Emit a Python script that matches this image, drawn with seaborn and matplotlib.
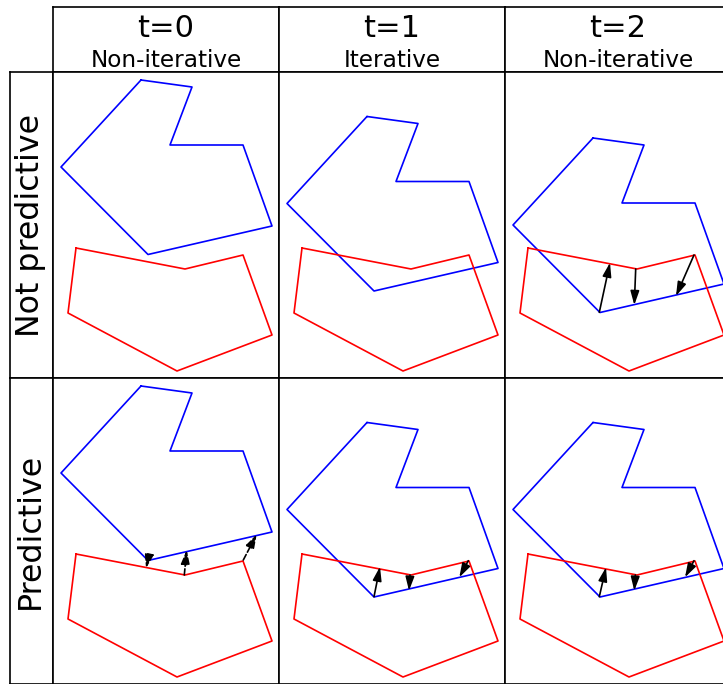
import matplotlib
matplotlib.use("Agg")
import matplotlib.pyplot as plt
import seaborn as sns

# ---- data (cell coordinates, y grows downward) ----
blue_x = [88, 139, 117, 190, 219, 95, 8]
blue_y = [8, 15, 73, 73, 154, 182.5, 95]
red_x = [23, 132, 190, 219, 124, 15]
red_y = [176, 197, 183, 263, 299, 241]

col_titles = ["t=0", "t=1", "t=2"]
col_subtitles = ["Non-iterative", "Iterative", "Non-iterative"]
row_labels = ["Not predictive", "Predictive"]

# vertical shift of the blue polygon in each panel (row, col)
blue_shift = [[0, 36.5, 58], [0, 36.5, 36.5]]

# arrows per panel: (tails, heads, dashed)
arrows = {
    (0, 2): ([(94.3, 240.3), (130.7, 197), (189, 183)],
             [(105, 190.7), (129.3, 233), (171, 224)], False),
    (1, 0): ([(95.3, 180.3), (131.3, 197), (190.3, 182)],
             [(93, 190.3), (133.7, 172), (203.7, 156.3)], True),
    (1, 1): ([(95, 218.7), (131, 197), (189.3, 182.7)],
             [(101, 188.7), (130, 212.7), (180.3, 199.3)], False),
    (1, 2): ([(94.3, 218.7), (130.3, 197), (189, 182.7)],
             [(101, 189.3), (129.3, 212.7), (180, 199.3)], False),
}

# ---- layout (pixels) ----
W, H = 723, 684
col_edges = [53, 279, 505, 731]
row_edges = [72, 378, 684]
header_top = 7
label_left = 10

sns.set_style("white")
plt.rcParams['font.family'] = ['DejaVu Sans']
plt.rcParams['text.color'] = 'black'

fig = plt.figure(figsize=(W / 100, H / 100), dpi=100)


def box(x0, y0, x1, y1):
    return [x0 / W, 1 - y1 / H, (x1 - x0) / W, (y1 - y0) / H]


def style(ax):
    ax.set_xticks([])
    ax.set_yticks([])
    ax.set_xlabel("")
    ax.set_ylabel("")
    for s in ax.spines.values():
        s.set_visible(True)
        s.set_color("black")
        s.set_linewidth(1.2)


def closed(xs, ys, dy=0):
    return list(xs) + [xs[0]], [y + dy for y in ys] + [ys[0] + dy]


# headers
for c in range(3):
    ax = fig.add_axes(box(col_edges[c], header_top, col_edges[c + 1], row_edges[0]))
    style(ax)
    ax.text(0.5, 0.543, col_titles[c], transform=ax.transAxes, ha="center",
            va="baseline", fontsize=22, color="black")
    ax.text(0.5, 0.082, col_subtitles[c], transform=ax.transAxes, ha="center",
            va="baseline", fontsize=16.7, color="black")

# row labels
for r in range(2):
    ax = fig.add_axes(box(label_left, row_edges[r], col_edges[0], row_edges[r + 1]))
    style(ax)
    ax.text(0.48, 0.5, row_labels[r], transform=ax.transAxes, ha="center",
            va="center", rotation=90, fontsize=22.8, color="black")

# panels
for r in range(2):
    for c in range(3):
        x0, x1 = col_edges[c], col_edges[c + 1]
        y0, y1 = row_edges[r], row_edges[r + 1]
        ax = fig.add_axes(box(x0, y0, x1, y1))
        bx, by = closed(blue_x, blue_y, blue_shift[r][c])
        rx, ry = closed(red_x, red_y)
        sns.lineplot(x=bx, y=by, sort=False, estimator=None, color="#0000ff",
                     linewidth=1.2, ax=ax)
        sns.lineplot(x=rx, y=ry, sort=False, estimator=None, color="#ff0000",
                     linewidth=1.2, ax=ax)
        if (r, c) in arrows:
            tails, heads, dashed = arrows[(r, c)]
            for t, h in zip(tails, heads):
                ax.annotate("", xy=h, xytext=t,
                            arrowprops=dict(arrowstyle="-|>,head_length=0.7,head_width=0.22",
                                            color="black", lw=1.2,
                                            linestyle="--" if dashed else "-",
                                            shrinkA=0, shrinkB=0,
                                            mutation_scale=12))
        ax.set_xlim(0, x1 - x0)
        ax.set_ylim(y1 - y0, 0)
        style(ax)

fig.savefig("out.png", dpi=100)
